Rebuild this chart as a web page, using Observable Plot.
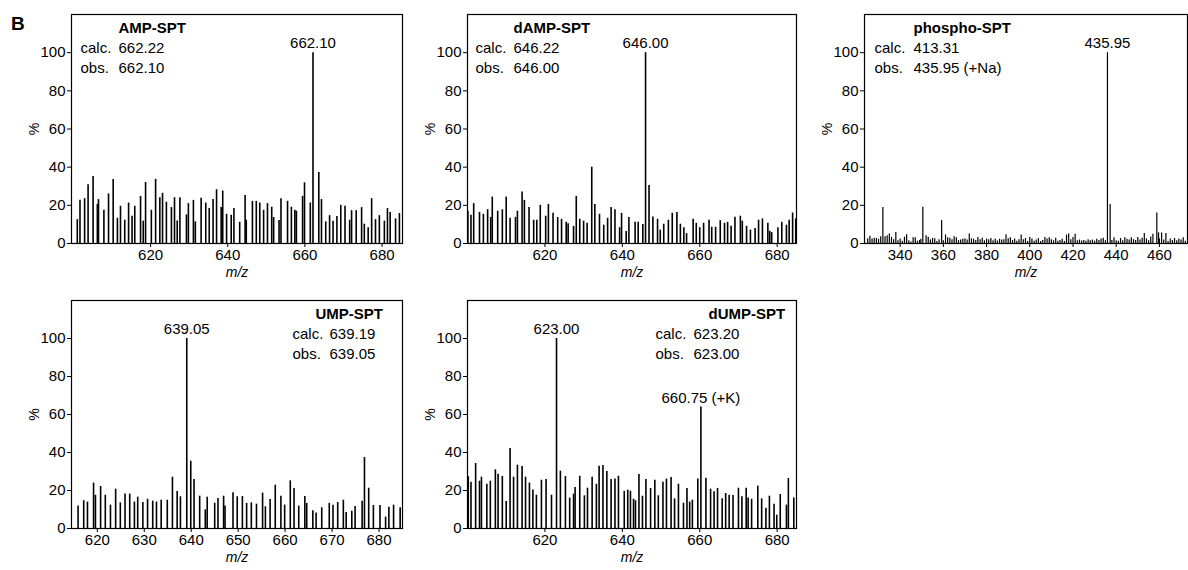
<!DOCTYPE html>
<html><head><meta charset="utf-8">
<script src="https://cdn.jsdelivr.net/npm/d3@7"></script>
<script src="https://cdn.jsdelivr.net/npm/@observablehq/plot@0.6"></script>
<style>
body{margin:0;background:#fff;}
#chart{position:relative;width:1188px;height:570px;font-family:"Liberation Sans",Arial,sans-serif;overflow:hidden;}
#chart svg{position:absolute;overflow:visible;max-width:none;}
.panelLetter{position:absolute;left:11px;top:14px;font-weight:bold;font-size:19px;line-height:1;}
</style></head><body>
<div id="chart"><div class="panelLetter">B</div></div>
<script>
// ---------- data ----------
const ampMz = [601.0,601.7,602.9,603.8,605.1,606.2,606.5,607.9,609.1,610.3,611.4,612.2,613.3,614.3,615.2,615.9,617.4,618.1,618.7,620.2,621.3,622.4,623.1,624.1,625.4,626.2,626.9,627.6,629.3,629.8,631.1,631.6,633.1,634.3,635.2,636.2,637.1,638.3,638.7,639.7,640.9,641.6,643.1,644.5,644.8,646.4,647.4,648.3,649.3,650.3,651.4,651.9,653.3,653.8,655.5,656.5,657.4,657.8,659.4,659.9,661.4,662.1,663.6,664.3,665.4,666.4,667.3,668.3,669.3,670.4,671.6,672.1,673.3,674.7,675.4,676.4,677.3,678.3,679.3,680.6,681.4,682.1,683.5,684.5];
const ampInt = [12.5,22.6,23.5,30.8,35.1,20.5,23,17.4,26,33.6,13.2,19.5,12.2,21.2,14.3,19.5,24.7,11.7,32,17.4,33.6,24,26.3,21.6,18.8,24,11.8,24,15,20.9,22.6,11.3,23.7,21.2,18.4,23,28.2,18.8,27.5,15.3,14.8,18.4,11.1,25.2,12.2,22.1,22.1,21.2,17.4,20.9,19,13.6,12,23.5,22.1,19,17.4,16.9,24.7,31.8,21.2,100,37.2,23,11.3,14.6,11.7,14.1,20,19.5,12.2,17.2,17.2,18.8,10.1,8.3,23.5,12.5,14.6,11.7,18.3,16.2,12.9,15.7];

const dampMz = [600.1,600.9,601.6,603.1,604.1,605.2,606.0,606.4,607.8,609.0,610.0,611.0,612.4,612.9,614.1,614.7,615.9,617.1,617.9,618.8,620.2,620.9,622.1,623.3,624.3,625.5,626.0,627.4,628.1,629.0,630.0,630.9,632.1,632.9,634.1,635.2,636.2,637.1,638.1,639.3,639.8,641.0,641.7,643.3,644.1,645.3,646.0,646.9,647.9,649.1,649.8,650.7,651.9,652.9,654.1,655.0,655.9,656.6,658.3,659.1,660.0,661.0,662.4,663.1,664.1,665.3,666.4,667.2,668.1,669.1,670.5,671.0,672.1,673.1,674.3,675.2,676.2,677.6,678.1,678.6,680.2,681.2,682.4,683.1,684.0,684.8];
const dampInt = [16.9,14.8,20.9,16.3,15.3,17.7,13.6,24.3,16.9,17.7,24.3,13.2,13.7,16.9,27,22.6,18.8,12.2,12.2,20,14.3,20.5,15.8,13.6,12.7,11.1,10.4,9.0,24.7,12.7,11.7,10.6,40,20.5,15.3,9.6,13.2,18.8,17.7,8.3,15.8,6.3,13.6,11.1,11.1,9.9,100,30.4,13.9,12.7,7.0,10.1,12.2,15.8,16.3,10.1,8.3,5.2,12.7,10.6,8.3,10.6,12.2,8.5,8.5,12,10.6,11.1,9.0,13.7,14.3,11.7,9.0,7.0,7.8,12.2,12.9,10.6,6.4,5.7,8.3,11.1,9.6,12.2,16,12.9];

const phosphoMz = [325,326,327,328,329,330,331,332,333,334,335,336,337,338,339,340,341,342,343,344,345,346,347,348,349,349.6,350.5,352,353,354,355,356,357,358,359.2,360,361,362,363,364,365,366,367,368,369,370,371,372,373,374,375,376,377,378,379,380,381,382,383,384,385,386,387,388,389,390,391,392,393,394,395,396,397,398,399,400,401,402,403,404,405,406,407,408,409,410,411,412,413,414,415,416,417,418,419,420,421,422,423,424,425,426,427,428,429,430,431,432,433,434,435,435.95,437.2,438,439,440,441,442,443,444,445,446,447,448,449,450,451,452,453,454,455,456,457,458.8,459.6,460,461,462,463,464,465,466,467,468,469,470,471,472];
const phosphoInt = [2.5,3.8,2.4,2.8,2.6,2.2,3.5,18.8,3.6,4.0,5.0,3.2,2.0,5.8,1.5,2.3,1.2,3.3,4.6,1.4,0.8,3.0,3.0,1.2,1.6,2.2,19.0,4.0,3.3,1.8,2.6,2.5,1.0,2.0,12.0,1.5,4.5,3.0,2.8,2.0,3.5,3.0,1.5,1.8,2.2,2.5,1.8,5.0,2.5,2.2,1.6,3.2,2.0,2.8,1.4,2.3,2.0,2.6,1.5,2.4,1.3,2.2,1.8,2.0,4.6,2.5,3.0,1.6,2.3,1.2,2.0,4.4,2.0,2.6,1.0,3.2,2.4,1.2,1.8,2.6,1.0,1.6,3.2,2.4,3.0,2.0,1.4,2.8,1.2,1.6,2.2,1.0,4.4,5.0,2.0,3.2,4.8,1.5,1.8,1.3,1.6,1.2,2.0,1.4,1.8,1.2,2.2,1.6,2.4,2.8,1.5,100,20.5,1.6,3.0,1.5,1.2,2.6,1.4,3.0,2.2,1.8,3.0,2.0,1.6,3.2,1.8,2.8,5.2,2.4,1.4,3.4,4.8,16.0,5.6,2.4,5.5,1.8,5.2,1.0,2.4,1.6,2.6,1.4,2.4,1.8,3.0,1.2];

const umpMz = [615.9,617.1,617.9,619.2,619.6,620.7,621.7,622.8,623.9,624.9,625.9,626.9,627.9,628.6,629.7,630.7,631.8,632.6,633.6,634.9,636.0,637.0,637.7,639.05,639.9,640.6,641.8,643.0,643.4,645.0,645.7,646.9,647.2,648.9,649.8,650.9,651.8,652.8,653.9,655.2,655.8,656.8,657.9,659.1,659.9,661.1,661.9,662.9,664.2,664.6,665.9,666.6,667.8,669.4,670.2,671.2,672.4,673.0,674.2,674.9,676.4,676.9,677.8,678.8,680.2,681.4,682.1,683.1,684.5];
const umpInt = [11.8,14.6,13.9,23.9,17.5,22.1,17.5,12.3,20.7,13.5,18.1,18.1,13.9,16.5,13.7,15.4,14.4,13.9,14.9,14.9,27,19.5,16.7,100,35.4,25.8,17,9.8,16.5,13.3,15.8,17,11.8,18.8,16.7,16.8,13.2,13.5,12.8,18.6,11.4,15.3,22.8,17,12.3,25.1,21.1,11.8,16.8,13.2,9.3,8.1,10.9,13.2,12.3,13.7,14.9,8.4,9.1,11.6,14.4,37.4,21.2,12.1,12.1,6.0,11.2,12.3,10.9];

const dumpMz = [600.2,600.9,602.1,603.1,603.6,605.0,605.9,607.2,607.9,609.0,610.0,611.0,611.9,612.9,614.1,615.0,616.0,616.9,617.8,619.1,620.3,621.7,623.0,624.0,625.3,626.4,627.4,627.8,629.0,630.2,631.0,632.2,633.3,634.0,635.0,636.0,637.1,638.1,639.0,640.5,641.4,642.1,642.9,643.4,644.3,645.2,646.1,647.3,648.4,649.3,650.5,651.4,652.6,653.5,654.5,655.8,656.7,657.4,658.1,659.5,660.3,661.6,662.8,663.7,664.6,665.8,666.7,667.6,668.6,670.0,670.9,672.0,672.5,673.4,675.0,676.0,677.1,678.0,679.2,679.9,680.8,682.4,682.9,684.3];
const dumpInt = [27.2,24.4,34.2,24.9,27,23.3,24.9,30.9,28.6,27.4,14.2,42.1,27,33.3,32.6,27,23.9,20.2,17.5,25.4,25.8,17.5,100,30.2,27.4,16,18.1,21.6,27.5,17.2,21.2,27,23.3,32.8,33.2,30,25.8,26.1,27.5,19.6,20.2,19.6,15.4,14.6,28.4,17,25.8,21.1,25.4,17.2,24.4,26,26.8,15.6,23.3,13.3,21.1,13.9,14.9,26,64,26.5,20.7,19.3,21.1,15.6,18.4,17.5,17.4,21.2,16.7,21.2,16,15.4,22.3,15.6,10.7,17,12.8,7.0,17.9,12.3,26.3,16.1];

const titles = ["AMP-SPT","dAMP-SPT","phospho-SPT","UMP-SPT","dUMP-SPT"];
const rowLabels = ["calc.", "obs."];
const calcValues = ["662.22","646.22","413.31","639.19","623.20"];
const obsValues = ["662.10","646.00","435.95 (+Na)","639.05","623.00"];
const peakMz = [[662.1],[646.0],[435.95],[639.05],[623.0,660.3]];
const peakInt = [[100],[100],[100],[100],[100,64]];
const peakLabels = [["662.10"],["646.00"],["435.95"],["639.05"],["623.00","660.75 (+K)"]];
const xTicksList = [[620,640,660,680],[620,640,660,680],[340,360,380,400,420,440,460],[620,630,640,650,660,670,680],[620,640,660,680]];
const yTicks = [0,20,40,60,80,100];

// ---------- layout (frame box in page px, text offsets) ----------
const layout = [
  {mz: ampMz, inten: ampInt, frame:[71,14,402,243], xDomain:[599.5,685.3], sw:1.6, labelDx:9, numDx:47, titleDx:47},
  {mz: dampMz, inten: dampInt, frame:[467,14,796,243], xDomain:[600,685], sw:1.6, labelDx:8, numDx:46, titleDx:46},
  {mz: phosphoMz, inten: phosphoInt, frame:[864,14,1187,243], xDomain:[323.5,473], sw:1.2, labelDx:10, numDx:49, titleDx:49},
  {mz: umpMz, inten: umpInt, frame:[71,300,402,528], xDomain:[614.5,685], sw:1.6, labelDx:221, numDx:258, titleDx:244},
  {mz: dumpMz, inten: dumpInt, frame:[467,300,796,528], xDomain:[600,685], sw:1.6, labelDx:188, numDx:226, titleDx:241}
];

const chart = document.getElementById("chart");
const font = "Liberation Sans, Arial, Helvetica, sans-serif";

layout.forEach((p, k) => {
  const [fl, ft, fr, fb] = p.frame;
  const mL = 62, mT = 4, mR = 2, mB = 44;
  const data = p.mz.map((m, i) => ({mz: m, i: p.inten[i]}));
  const peaks = peakMz[k].map((m, i) => ({mz: m, i: peakInt[k][i], label: peakLabels[k][i]}));
  const txt = (s, dx, dy, extra = {}) => Plot.text([s], {text: d => d, frameAnchor: "top-left", dx, dy,
    textAnchor: "start", lineAnchor: "middle", fontSize: 15, fill: "#000", ...extra});
  const svg = Plot.plot({
    width: fr - fl + mL + mR,
    height: fb - ft + mT + mB,
    marginLeft: mL, marginTop: mT, marginRight: mR, marginBottom: mB,
    style: {fontFamily: font, fontSize: "15px", background: "transparent", color: "#000"},
    x: {domain: p.xDomain, ticks: xTicksList[k], tickSize: 4, tickPadding: 2, tickFormat: d3.format("d"),
        label: "m/z", labelAnchor: "center", labelArrow: "none", labelOffset: 33},
    y: {domain: [0, 120], ticks: yTicks, tickSize: 4, tickPadding: 2,
        label: "%", labelAnchor: "center", labelArrow: "none", labelOffset: 42},
    marks: [
      Plot.ruleX(data, {x: "mz", y1: 0, y2: "i", stroke: "#000", strokeWidth: p.sw}),
      Plot.frame({stroke: "#000", strokeWidth: 1.2}),
      Plot.text(peaks, {x: "mz", y: "i", text: "label", dy: -9, lineAnchor: "middle", fontSize: 15, fill: "#000"}),
      txt(titles[k], p.titleDx, 13.5, {fontWeight: "bold"}),
      txt(rowLabels[0], p.labelDx, 34),
      txt(calcValues[k], p.numDx, 34),
      txt(rowLabels[1], p.labelDx, 53.5),
      txt(obsValues[k], p.numDx, 53.5)
    ]
  });
  chart.appendChild(svg);
  svg.style.left = (fl - mL) + "px";
  svg.style.top = (ft - mT) + "px";
  svg.querySelectorAll('[aria-label="x-axis label"] text').forEach(t => { t.setAttribute("font-style", "italic"); t.setAttribute("font-size", "14"); });
  svg.querySelectorAll('[aria-label="y-axis label"] text').forEach(t => t.setAttribute("font-size", "14"));
});
</script>
</body></html>
